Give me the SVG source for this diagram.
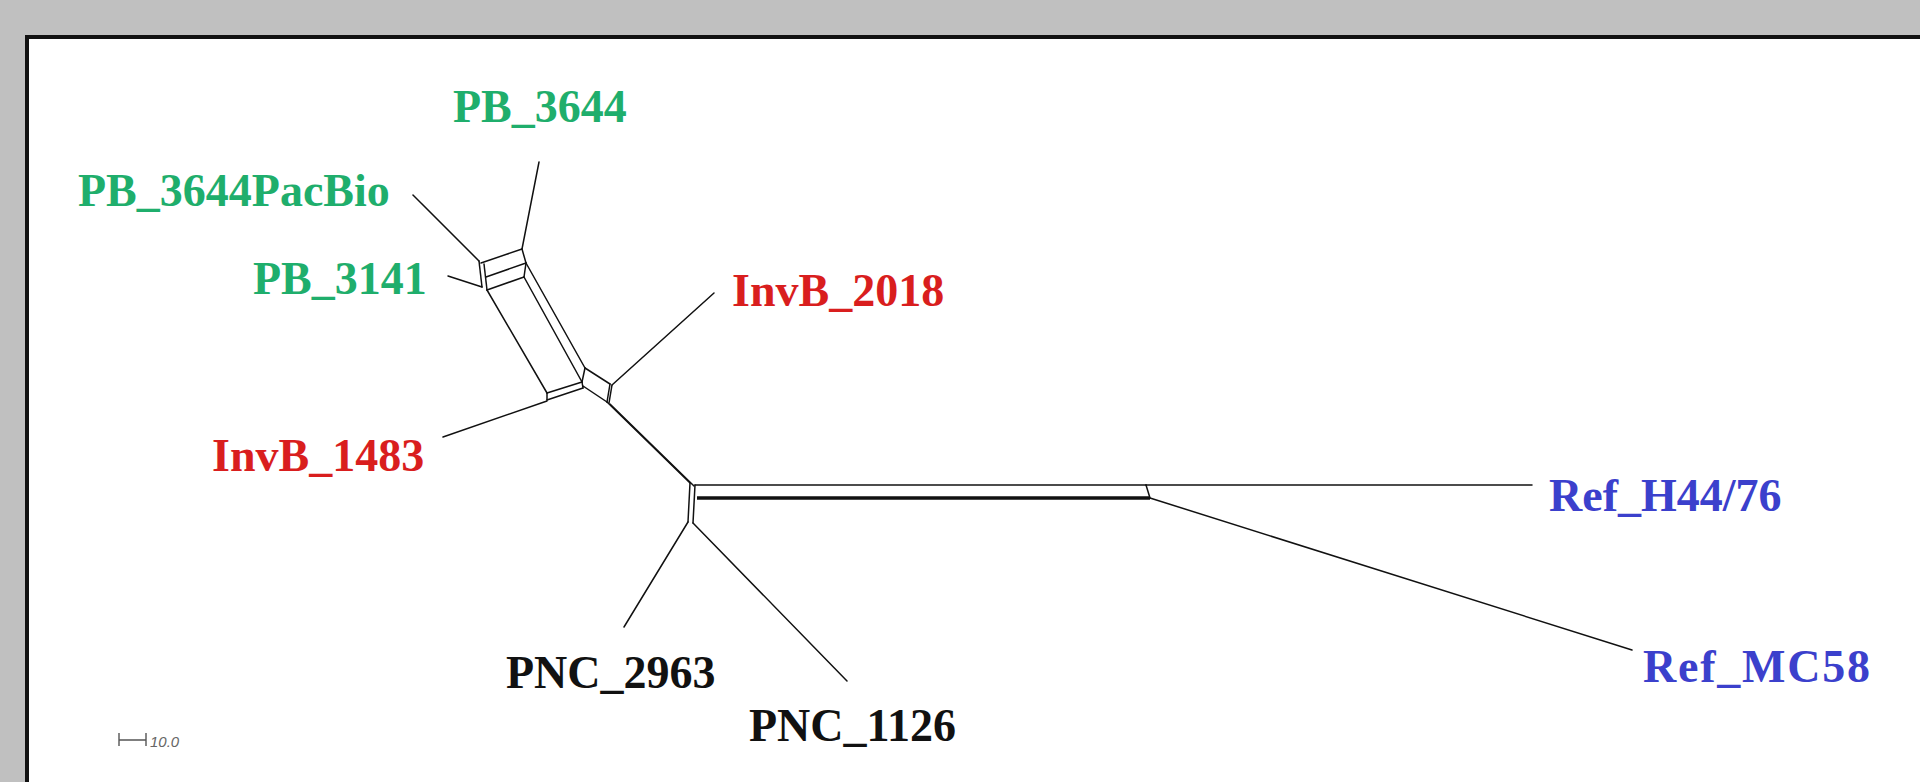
<svg xmlns="http://www.w3.org/2000/svg" width="1920" height="782" viewBox="0 0 1920 782">
<style>
.lbl{font-family:"Liberation Serif","Times New Roman",serif;font-weight:bold;font-size:46px}
.g{fill:#1fae6c}.r{fill:#d91e1e}.b{fill:#3b40cc}.k{fill:#111}
.e{stroke:#111;stroke-width:1.5;fill:none;stroke-linecap:round}
.t{stroke:#111;stroke-width:3.4;fill:none}
</style>
<rect x="0" y="0" width="1920" height="782" fill="#c0c0c0"/>
<rect x="25" y="35" width="1895" height="747" fill="#111"/>
<rect x="29" y="39" width="1891" height="743" fill="#ffffff"/>
<g id="connectors">
<line class="e" x1="539" y1="162" x2="522" y2="249"/>
<line class="e" x1="413" y1="195" x2="479" y2="261"/>
<line class="e" x1="448" y1="276" x2="482" y2="287"/>
<line class="e" x1="714" y1="293" x2="612" y2="385"/>
<line class="e" x1="443" y1="437" x2="547" y2="401"/>
<line class="e" x1="1146" y1="485" x2="1532" y2="485"/>
<line class="e" x1="1150" y1="498" x2="1632" y2="650"/>
<line class="e" x1="688" y1="522" x2="624" y2="627"/>
<line class="e" x1="693" y1="523" x2="847" y2="681"/>
<line class="e" x1="479" y1="261" x2="482" y2="287"/>
<line class="e" x1="484" y1="264" x2="487" y2="290"/>
<line class="e" x1="481" y1="263" x2="522" y2="249"/>
<line class="e" x1="486" y1="277" x2="526" y2="263"/>
<line class="e" x1="487" y1="290" x2="524" y2="277"/>
<line class="e" x1="522" y1="249" x2="526" y2="263"/>
<line class="e" x1="526" y1="263" x2="524" y2="277"/>
<line class="e" x1="526" y1="263" x2="585" y2="368"/>
<line class="e" x1="524" y1="277" x2="582" y2="382"/>
<line class="e" x1="487" y1="290" x2="547" y2="393"/>
<line class="e" x1="547" y1="393" x2="582" y2="382"/>
<line class="e" x1="547" y1="400" x2="583" y2="388"/>
<line class="e" x1="547" y1="393" x2="547" y2="400"/>
<line class="e" x1="582" y1="382" x2="583" y2="388"/>
<line class="e" x1="585" y1="368" x2="610" y2="384"/>
<line class="e" x1="583" y1="386" x2="607" y2="402"/>
<line class="e" x1="610" y1="384" x2="607" y2="402"/>
<line class="e" x1="612" y1="385" x2="609" y2="403"/>
<line class="e" x1="585" y1="368" x2="582" y2="382"/>
<line class="e" x1="607" y1="402" x2="690" y2="483"/>
<line class="e" x1="610" y1="404" x2="694" y2="486"/>
<line class="e" x1="690" y1="483" x2="688" y2="522"/>
<line class="e" x1="695" y1="485" x2="693" y2="523"/>
<line class="e" x1="695" y1="485" x2="1146" y2="485"/>
<line class="t" x1="697" y1="498" x2="1150" y2="498"/>
<line class="e" x1="1146" y1="485" x2="1150" y2="498"/>
</g>
<g id="scale">
<path d="M119 740H146M119 733V746M146 733V746" stroke="#555" stroke-width="1.4" fill="none"/>
<text x="150" y="747" font-family="Liberation Sans,Arial,sans-serif" font-style="italic" font-size="15" fill="#666">10.0</text>
</g>
<g id="PB_3644"><text class="lbl g" x="453" y="122">PB_3644</text></g>
<g id="PB_3644PacBio"><text class="lbl g" x="78" y="206">PB_3644PacBio</text></g>
<g id="PB_3141"><text class="lbl g" x="253" y="294">PB_3141</text></g>
<g id="InvB_2018"><text class="lbl r" x="732" y="306">InvB_2018</text></g>
<g id="InvB_1483"><text class="lbl r" x="212" y="471">InvB_1483</text></g>
<g id="Ref_H44_76"><text class="lbl b" x="1549" y="511">Ref_H44/76</text></g>
<g id="Ref_MC58"><text class="lbl b" x="1643" y="682" textLength="227">Ref_MC58</text></g>
<g id="PNC_2963"><text class="lbl k" x="506" y="688">PNC_2963</text></g>
<g id="PNC_1126"><text class="lbl k" x="749" y="741">PNC_1126</text></g>
</svg>
